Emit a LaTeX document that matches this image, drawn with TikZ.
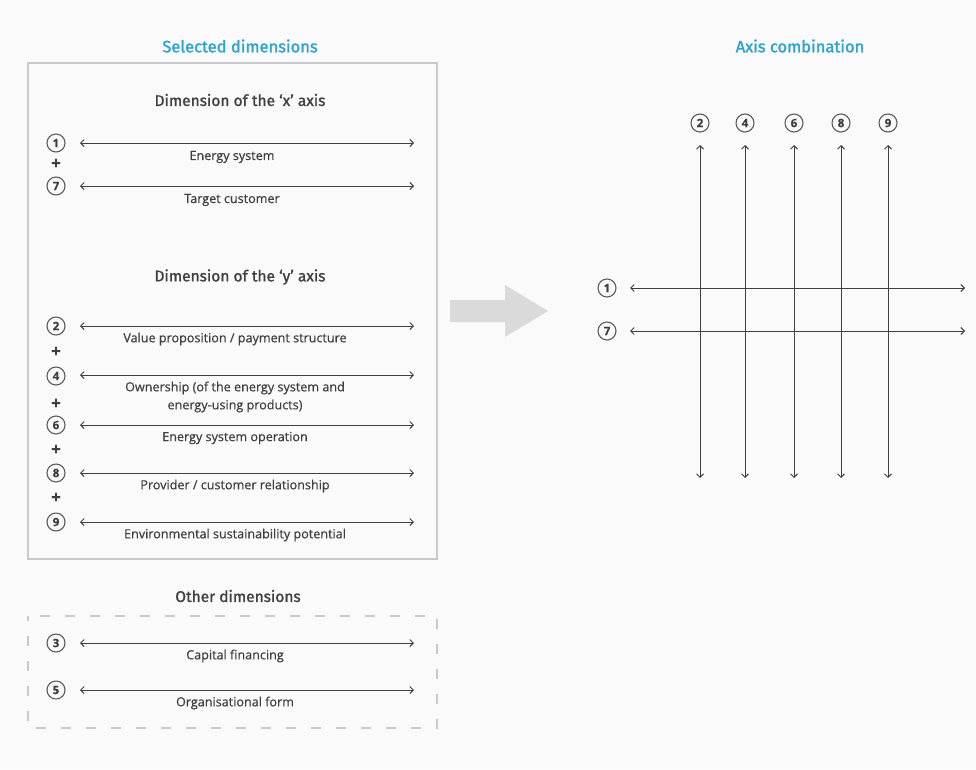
\documentclass[tikz,border=0pt]{standalone}
\usepackage{fontspec}
\setmainfont{Open Sans}[FakeBold=0.5]
\newfontfamily\headfont{Fira Sans}[FakeBold=1.2]
\newfontfamily\titlefont{Fira Sans}[FakeBold=1.6]
\usetikzlibrary{arrows.meta}
\definecolor{titleblue}{HTML}{2CA4CF}
\definecolor{ink}{HTML}{3F3F3F}
\definecolor{frame}{HTML}{C9C9C9}
\definecolor{bigarrow}{HTML}{DADADA}
\tikzset{
  title/.style={font=\titlefont\fontsize{16.5}{18}\selectfont, text=titleblue},
  heading/.style={font=\headfont\fontsize{15.5}{18}\selectfont, text=ink},
  label/.style={font=\fontsize{12.6}{18}\selectfont, text=ink, align=center},
  num/.style={circle, draw=ink!85, line width=1.1pt, inner sep=0pt, minimum size=18pt,
    font=\fontsize{11.5}{12}\selectfont\bfseries, text=ink},
  plus/.style={font=\fontsize{17}{17}\selectfont\bfseries, text=ink},
  dim/.style={draw=ink, line width=1pt, {Straight Barb[length=3.5pt,width=7pt]}-{Straight Barb[length=3.5pt,width=7pt]}},
}
\begin{document}
\begin{tikzpicture}[x=1pt,y=-1pt]
  \fill[white!98!black] (0,0) rectangle (976,769);
  \useasboundingbox (0,0) rectangle (976,769);

  % ---- selected dimensions ----
  \node[title] (tsel) at (240,46) {Selected dimensions};
  \draw[frame, line width=2.5pt] (28,63) rectangle (437,559);
  \node[heading] (hx) at (240,100) {Dimension of the ‘x’ axis};

  % x-axis dimensions
  \foreach \n/\y/\txt in {1/143/{Energy system}, 7/186/{Target customer}}{
    \node[num] (n\n) at (56,\y) {\n};
    \coordinate (l\n) at (80,\y);
    \coordinate (r\n) at (414,\y);
    \draw[dim] (l\n) -- (r\n);
    \node[label] (t\n) at (232,\y+14) {\txt};
  }
  \node[plus] (p17) at (56,164) {+};

  \node[heading] (hy) at (240,277) {Dimension of the ‘y’ axis};
  \foreach \n/\y/\txt in {2/326/{Value proposition / payment structure},
                          6/425/{Energy system operation},
                          8/473/{Provider / customer relationship},
                          9/522/{Environmental sustainability potential}}{
    \node[num] (n\n) at (56,\y) {\n};
    \coordinate (l\n) at (80,\y);
    \coordinate (r\n) at (414,\y);
    \draw[dim] (l\n) -- (r\n);
    \node[label] (t\n) at (235,\y+13) {\txt};
  }
  \node[num] (n4) at (56,376) {4};
  \coordinate (l4) at (80,375);
  \coordinate (r4) at (414,375);
  \draw[dim] (l4) -- (r4);
  \node[label] (t4) at (235,397) {Ownership (of the energy system and\\energy-using products)};
  \foreach \y [count=\i] in {352,404,450,498}{
    \node[plus] (py\i) at (56,\y) {+};
  }

  % ---- other dimensions ----
  \node[heading] (ho) at (238,596) {Other dimensions};
  \draw[frame, line width=2.5pt, dash pattern=on 10pt off 15pt, dash phase=5pt] (28,616) rectangle (437,728);
  \foreach \n/\y/\txt in {3/643/{Capital financing}, 5/690/{Organisational form}}{
    \node[num] (n\n) at (56,\y) {\n};
    \coordinate (l\n) at (80,\y);
    \coordinate (r\n) at (414,\y);
    \draw[dim] (l\n) -- (r\n);
    \node[label] (t\n) at (235,\y+13) {\txt};
  }

  % ---- big arrow ----
  \fill[bigarrow] (450,300) -- (505,300) -- (505,285) -- (548,311)
    -- (505,337) -- (505,322) -- (450,322) -- cycle;

  % ---- axis combination ----
  \node[title] (tax) at (800,46) {Axis combination};
  \foreach \n/\x in {2/700,4/745,6/794,8/841,9/888}{
    \node[num] (v\n) at (\x,123) {\n};
    \coordinate (vt\n) at (\x,145);
    \coordinate (vb\n) at (\x,478);
    \draw[dim] (vt\n) -- (vb\n);
  }
  \foreach \n/\y in {1/288,7/331}{
    \node[num] (h\n) at (607,\y) {\n};
    \coordinate (hl\n) at (630,\y);
    \coordinate (hr\n) at (965,\y);
    \draw[dim] (hl\n) -- (hr\n);
  }
\end{tikzpicture}
\end{document}
